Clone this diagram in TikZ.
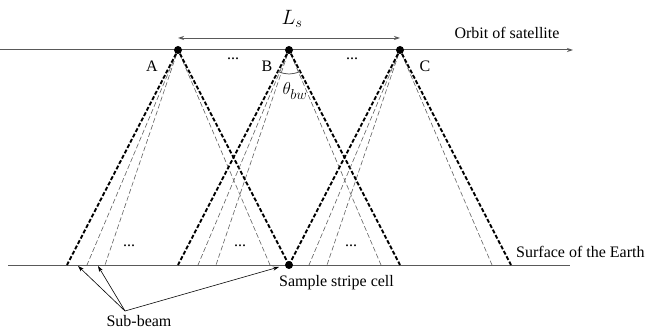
\documentclass[tikz,border=0pt]{standalone}
\usepackage{fontspec}
\setmainfont{Liberation Serif}
\usetikzlibrary{arrows.meta}

\begin{document}
\begin{tikzpicture}[x=1pt, y=-1pt,
  beam/.style={line width=1.9pt, dash pattern=on 4pt off 2pt},
  subbeam/.style={line width=0.6pt, gray!75!black, dash pattern=on 5pt off 2.5pt},
  sat/.style={circle, fill=black, inner sep=0pt, minimum size=8pt},
  lbl/.style={font=\fontsize{16}{18}\selectfont, inner sep=0pt},
  pointer/.style={-{Stealth[length=6pt,width=4pt]}, line width=0.6pt}
]
\useasboundingbox (0,0) rectangle (650,331);

% Draw orbit of satellite and surface of the Earth
\coordinate (orbitL) at (0,50);
\coordinate (orbitR) at (573,50);
\draw[pointer, gray!70!black, line width=1pt] (orbitL) -- (orbitR);
\node[lbl] (orbit) at (507,33) {Orbit of satellite};

\coordinate (earthL) at (8,265);
\coordinate (earthR) at (570,265);
\draw[gray!70!black, line width=1pt] (earthL) -- (earthR);
\node[lbl, anchor=west] (earth) at (516,252) {Surface of the Earth};

% Draw satellite positions
\node[sat] (A) at (178,50) {};
\node[sat] (B) at (289,50) {};
\node[sat] (C) at (400,50) {};
\node[lbl] (labA) at (152,66) {A};
\node[lbl] (labB) at (267,66) {B};
\node[lbl] (labC) at (425,66) {C};
\node[lbl] (dotsAB) at (233,59) {...};
\node[lbl] (dotsBC) at (352,59) {...};

% Draw beams and sub-beams
\foreach \s/\x in {A/178, B/289, C/400} {
  \coordinate (\s L) at (\x-111,265);
  \coordinate (\s L1) at (\x-91,265);
  \coordinate (\s L2) at (\x-73,265);
  \coordinate (\s R1) at (\x+92,265);
  \coordinate (\s R) at (\x+111,265);
  \draw[subbeam] (\s) -- (\s L1);
  \draw[subbeam] (\s) -- (\s L2);
  \draw[subbeam] (\s) -- (\s R1);
  \draw[beam] (\s) -- (\s L);
  \draw[beam] (\s) -- (\s R);
  \node[lbl] (dots\s) at (\x-49,246) {...};
}

% Draw sample stripe cell
\node[sat] (cell) at (289,265) {};
\node[lbl, anchor=west] (cellLab) at (279,283) {Sample stripe cell};

% Draw beam width angle
\draw[gray!70!black, line width=0.8pt] (B.center) ++(62.7:24) arc[start angle=62.7, end angle=117.3, radius=24];
\node[font=\fontsize{19}{21}\selectfont, inner sep=0pt] (theta) at (295,91) {$\theta_{bw}$};

% Draw distance between satellites
\coordinate (LsA) at (178,38);
\coordinate (LsC) at (400,38);
\draw[{Stealth[length=6pt,width=4pt]}-{Stealth[length=6pt,width=4pt]}, gray!70!black, line width=0.8pt] (LsA) -- (LsC);
\node[font=\fontsize{21}{23}\selectfont, inner sep=0pt] (Ls) at (292,19) {$L_s$};

% Draw sub-beam pointers
\node[lbl] (sub) at (139,321) {Sub-beam};
\coordinate (subO) at (125,311);
\coordinate (tip1) at (78,266);
\coordinate (tip2) at (98,266);
\coordinate (tip3) at (279,267);
\draw[pointer] (subO) -- (tip1);
\draw[pointer] (subO) -- (tip2);
\draw[pointer] (subO) -- (tip3);

\end{tikzpicture}
\end{document}
